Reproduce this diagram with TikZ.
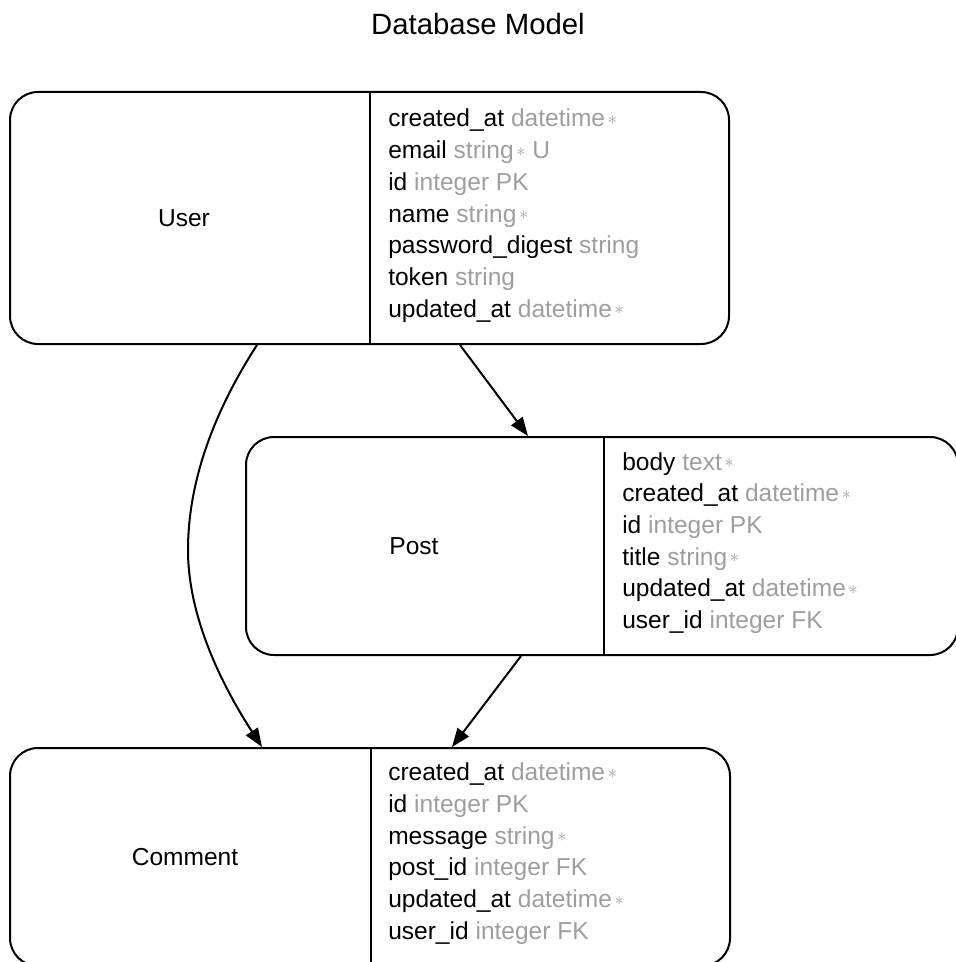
\documentclass[tikz,border=0pt]{standalone}
\usepackage{fontspec}
\setmainfont{Liberation Sans}
\usetikzlibrary{arrows.meta,calc}
\definecolor{typegray}{HTML}{9E9E9E}
\newcommand{\ftype}[1]{\textcolor{typegray}{#1}}
\newcommand{\req}{\textcolor{typegray}{\hspace{2pt}\raisebox{0.1em}{\scalebox{0.8}{$\ast$}}}}
\begin{document}
\begin{tikzpicture}[x=0.75pt,y=-0.75pt,
  entity/.style={draw,line width=1.5pt,rounded corners=21pt,inner sep=0pt},
  field/.style={anchor=base west,inner sep=0pt,font=\fontsize{18.4}{22}\selectfont},
  ename/.style={inner sep=0pt,font=\fontsize{18.4}{22}\selectfont},
  rel/.style={line width=1.5pt,-{Triangle[length=14pt,width=10.5pt]}},
  divider/.style={line width=1.5pt}]
\useasboundingbox (0,0) rectangle (955,962);

\node[anchor=base,inner sep=0pt,font=\fontsize{22}{26}\selectfont] (title) at (478,35) {Database Model};

% User
\node[entity,minimum width=539.25pt,minimum height=189pt] (user) at (369.5,218) {};
\draw[divider] (user.north -| 370,0) -- (user.south -| 370,0);
\node[ename] (username) at (184,218) {User};
\foreach \t [count=\i] in {
  created\_at \ftype{datetime}\req,
  email \ftype{string}\req\ \ftype{U},
  id \ftype{integer PK},
  name \ftype{string}\req,
  password\_digest \ftype{string},
  token \ftype{string},
  updated\_at \ftype{datetime}\req}
  \node[field] (u\i) at (388,{127+31.7*(\i-1)}) {\t};

% Post
\node[entity,minimum width=534pt,minimum height=163.5pt] (post) at (602,546) {};
\draw[divider] (post.north -| 604,0) -- (post.south -| 604,0);
\node[ename] (postname) at (414,546) {Post};
\foreach \t [count=\i] in {
  body \ftype{text}\req,
  created\_at \ftype{datetime}\req,
  id \ftype{integer PK},
  title \ftype{string}\req,
  updated\_at \ftype{datetime}\req,
  user\_id \ftype{integer FK}}
  \node[field] (p\i) at (622,{470+31.7*(\i-1)}) {\t};

% Comment
\node[entity,minimum width=540pt,minimum height=163.5pt] (comment) at (370,857) {};
\draw[divider] (comment.north -| 371,0) -- (comment.south -| 371,0);
\node[ename] (commentname) at (185,857) {Comment};
\foreach \t [count=\i] in {
  created\_at \ftype{datetime}\req,
  id \ftype{integer PK},
  message \ftype{string}\req,
  post\_id \ftype{integer FK},
  updated\_at \ftype{datetime}\req,
  user\_id \ftype{integer FK}}
  \node[field] (c\i) at (388,{780.7+31.7*(\i-1)}) {\t};

% relations
\draw[rel] (user.south -| 460,0) -- (post.north -| 528,0);
\draw[rel] (post.south -| 521,0) -- (comment.north -| 452,0);
\draw[rel] (user.south -| 257,0) .. controls (215,410) and (188,480) .. (188,550)
  .. controls (188,620) and (225,690) .. (comment.north -| 262,0);
\end{tikzpicture}
\end{document}
